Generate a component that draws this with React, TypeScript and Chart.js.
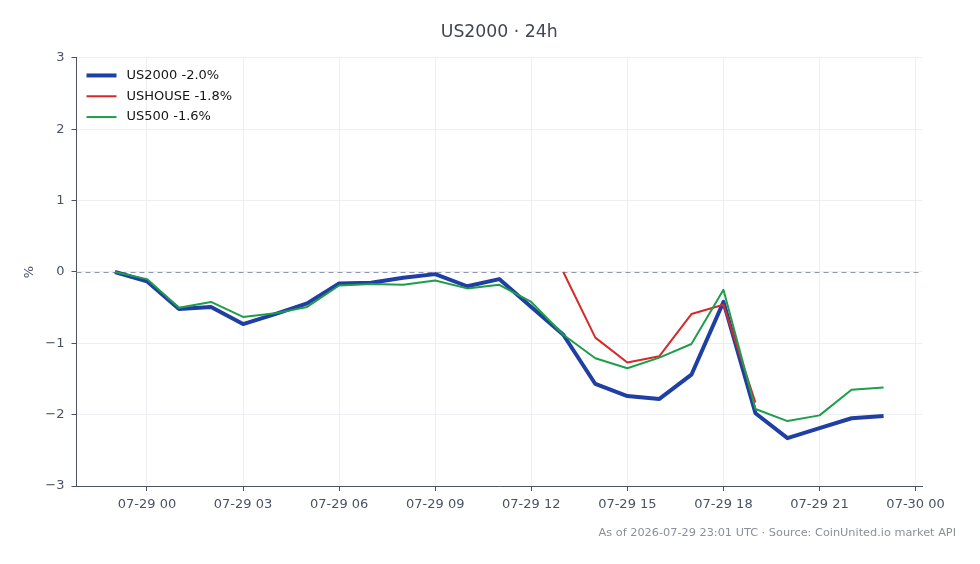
import { useEffect, useRef } from 'react';
import { Chart, registerables } from 'chart.js';

Chart.register(...registerables);

// Hours relative to 2026-07-29 00:00 UTC
const HOURS = [-1, 0, 1, 2, 3, 4, 5, 6, 7, 8, 9, 10, 11, 12, 13, 14, 15, 16, 17, 18, 19, 20, 21, 22, 23];

// % change over the last 24h
const US2000 = [0, -0.13, -0.52, -0.49, -0.73, -0.59, -0.44, -0.16, -0.15, -0.08, -0.03, -0.2, -0.1, -0.49, -0.88, -1.57, -1.74, -1.78, -1.44, -0.42, -1.98, -2.33, -2.19, -2.05, -2.02];
const USHOUSE = [null, null, null, null, null, null, null, null, null, null, null, null, null, null, 0, -0.92, -1.27, -1.18, -0.59, -0.46, -1.83, null, null, null, null];
const US500 = [0, -0.1, -0.5, -0.42, -0.63, -0.58, -0.49, -0.19, -0.17, -0.18, -0.12, -0.23, -0.18, -0.42, -0.88, -1.21, -1.35, -1.2, -1.01, -0.25, -1.92, -2.09, -2.01, -1.65, -1.62];

const SERIES_NAMES = ['US2000', 'USHOUSE', 'US500'];
const SERIES_COLORS = ['#1f3fa3', '#d62a2a', '#1f9d4a'];
const SERIES_WIDTHS = [4, 2, 2];

const X_TICKS = [0, 3, 6, 9, 12, 15, 18, 21, 24];
const Y_TICKS = [-3, -2, -1, 0, 1, 2, 3];

const TITLE = 'US2000 · 24h';
const FOOTNOTE = 'As of 2026-07-29 23:01 UTC · Source: CoinUnited.io market API';

const FONT = "'DejaVu Sans', 'Liberation Sans', sans-serif";
const AXIS_COLOR = '#4a5263';
const GRID_COLOR = '#eceef2';

function hourLabel(h: number): string {
  const day = 29 + Math.floor(h / 24);
  const hh = ((h % 24) + 24) % 24;
  return `07-${day} ${String(hh).padStart(2, '0')}`;
}

function pctLabel(v: number): string {
  return v < 0 ? '\u2212' + Math.abs(v) : String(v);
}

function lastValue(values: (number | null)[]): number {
  for (let i = values.length - 1; i >= 0; i--) {
    if (values[i] !== null) return values[i] as number;
  }
  return 0;
}

// Dashed reference line at 0 %
const zeroLine = {
  id: 'zeroLine',
  beforeDatasetsDraw(chart: any) {
    const { ctx, chartArea, scales } = chart;
    const y = Math.round(scales.y.getPixelForValue(0)) + 0.5;
    ctx.save();
    ctx.strokeStyle = '#8d97b3';
    ctx.lineWidth = 1;
    ctx.setLineDash([5, 4]);
    ctx.beginPath();
    ctx.moveTo(chartArea.left, y);
    ctx.lineTo(chartArea.right, y);
    ctx.stroke();
    ctx.restore();
  },
};

// Legend drawn inside the plot, top-left
const insideLegend = {
  id: 'insideLegend',
  afterDatasetsDraw(chart: any) {
    const { ctx, chartArea } = chart;
    ctx.save();
    ctx.font = `13px ${FONT}`;
    ctx.textBaseline = 'middle';
    ctx.textAlign = 'left';
    chart.data.datasets.forEach((ds: any, i: number) => {
      const y = chartArea.top + 17.5 + i * 20.8;
      const x0 = chartArea.left + 10;
      ctx.strokeStyle = ds.borderColor;
      ctx.lineWidth = ds.borderWidth;
      ctx.setLineDash([]);
      ctx.beginPath();
      ctx.moveTo(x0, y);
      ctx.lineTo(x0 + 30, y);
      ctx.stroke();
      ctx.fillStyle = '#151515';
      ctx.fillText(ds.label, x0 + 40, y);
    });
    ctx.restore();
  },
};

// Source note, bottom-right
const footnote = {
  id: 'footnote',
  afterDraw(chart: any) {
    const { ctx, width } = chart;
    ctx.save();
    ctx.font = `11.3px ${FONT}`;
    ctx.fillStyle = '#8a8f99';
    ctx.textAlign = 'right';
    ctx.textBaseline = 'middle';
    ctx.fillText(FOOTNOTE, width - 24, 533);
    ctx.restore();
  },
};

export default function App() {
  const canvasRef = useRef<HTMLCanvasElement | null>(null);

  useEffect(() => {
    if (!canvasRef.current) return;
    Chart.defaults.font.family = FONT;

    const seriesValues = [US2000, USHOUSE, US500];
    const datasets = seriesValues.map((vals, i) => {
      const last = lastValue(vals);
      return {
        label: `${SERIES_NAMES[i]} ${last.toFixed(1)}%`,
        data: HOURS.map((h, j) => ({ x: h, y: vals[j] })),
        borderColor: SERIES_COLORS[i],
        backgroundColor: SERIES_COLORS[i],
        borderWidth: SERIES_WIDTHS[i],
        pointRadius: 0,
        pointHoverRadius: 0,
        tension: 0,
        spanGaps: false,
        borderJoinStyle: 'round' as const,
        borderCapStyle: 'butt' as const,
        order: 3 - i,
      };
    });

    const chart = new Chart(canvasRef.current, {
      type: 'line',
      data: { datasets },
      options: {
        animation: false,
        responsive: true,
        maintainAspectRatio: false,
        layout: { padding: { left: 0, right: 58, top: 0, bottom: 0 } },
        plugins: {
          legend: { display: false },
          tooltip: { enabled: false },
          title: {
            display: true,
            text: TITLE,
            fullSize: false,
            color: '#3f4757',
            font: { size: 17.3, weight: 'normal', family: FONT },
            padding: { top: 22.6, bottom: 14.6 },
          },
        },
        scales: {
          x: {
            type: 'linear',
            min: -2.2,
            max: 24.2,
            afterBuildTicks: (scale: any) => {
              scale.ticks = X_TICKS.map((v) => ({ value: v }));
            },
            afterFit: (scale: any) => {
              scale.height = 78;
            },
            ticks: {
              autoSkip: false,
              maxRotation: 0,
              color: AXIS_COLOR,
              padding: 6,
              font: { size: 13, family: FONT },
              callback: (v: any) => hourLabel(Number(v)),
            },
            grid: {
              color: GRID_COLOR,
              lineWidth: 1,
              tickColor: AXIS_COLOR,
              tickLength: 5,
            },
            border: { color: AXIS_COLOR, width: 1 },
          },
          y: {
            type: 'linear',
            min: -3,
            max: 3,
            afterBuildTicks: (scale: any) => {
              scale.ticks = Y_TICKS.map((v) => ({ value: v }));
            },
            afterFit: (scale: any) => {
              scale.width = 76.5;
            },
            ticks: {
              color: AXIS_COLOR,
              padding: 7,
              font: { size: 13, family: FONT },
              callback: (v: any) => pctLabel(Number(v)),
            },
            grid: {
              color: GRID_COLOR,
              lineWidth: 1,
              tickColor: AXIS_COLOR,
              tickLength: 5,
            },
            border: { color: AXIS_COLOR, width: 1 },
            title: {
              display: true,
              text: '%',
              color: AXIS_COLOR,
              font: { size: 13, family: FONT },
              padding: { top: 22, bottom: 0 },
            },
          },
        },
      },
      plugins: [zeroLine, insideLegend, footnote],
    });

    return () => chart.destroy();
  }, []);

  return (
    <div style={{ position: 'fixed', left: 0, top: 0, width: 980, height: 564, background: '#ffffff' }}>
      <canvas ref={canvasRef} />
    </div>
  );
}
